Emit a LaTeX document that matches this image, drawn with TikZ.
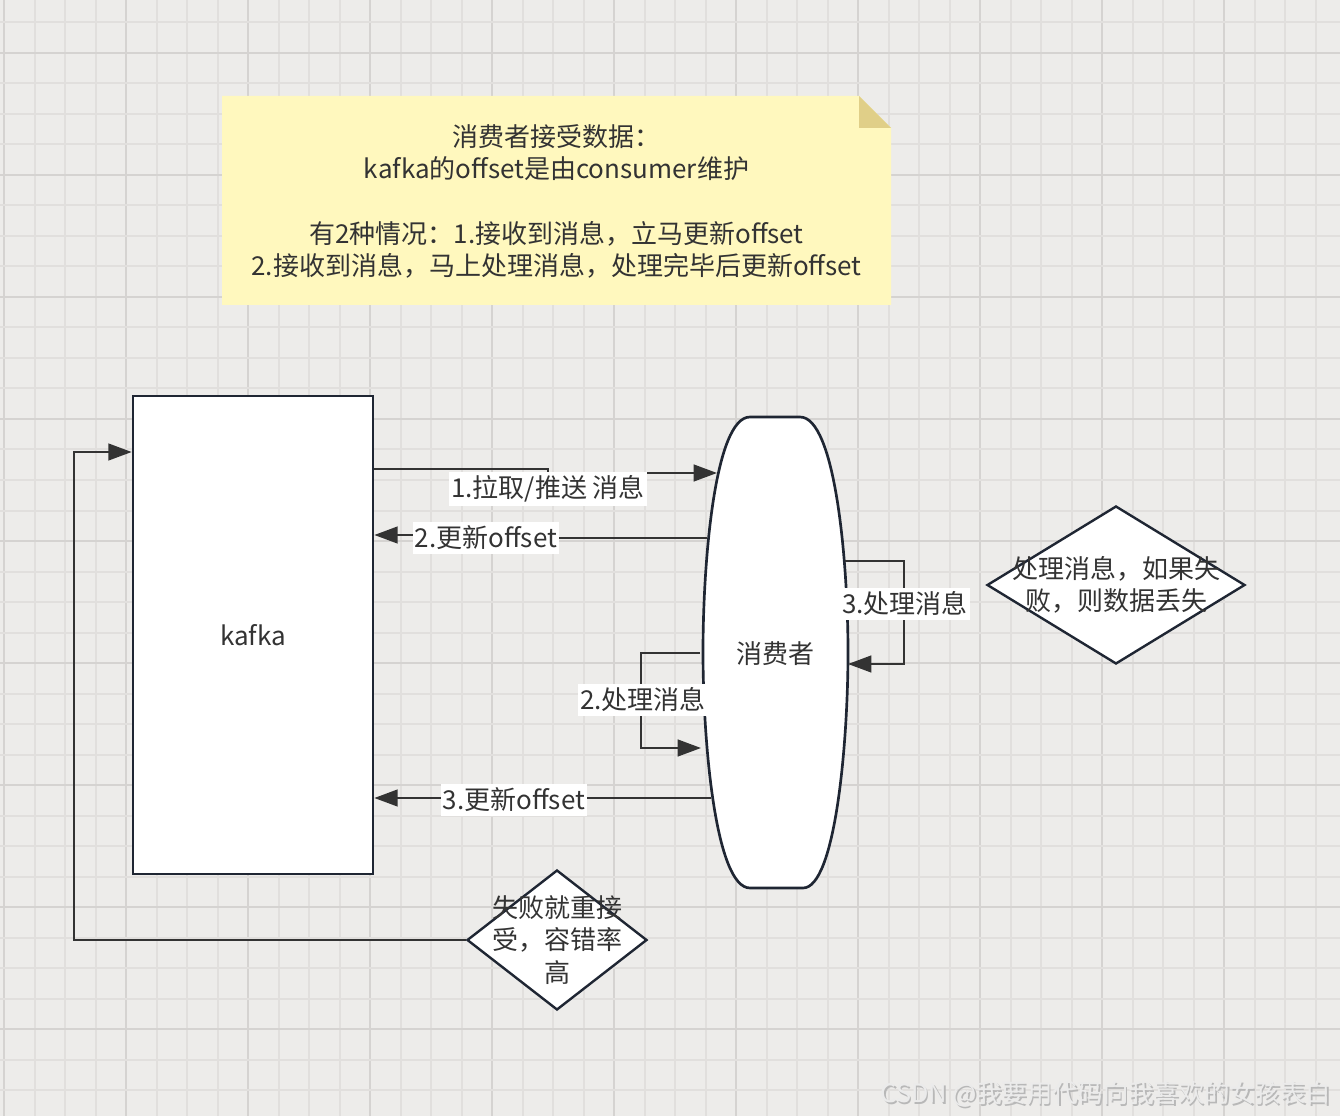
\documentclass[tikz,border=0pt]{standalone}
\usepackage{fontspec}
\setmainfont{Noto Sans CJK SC}
\usepackage{xcolor}
\usepackage{tikz}
\usetikzlibrary{arrows.meta,positioning,calc,shapes.geometric}
\definecolor{kfPaper}{HTML}{EDECEA}
\definecolor{kfGrid}{HTML}{E1DFDD}
\definecolor{kfGridMajor}{HTML}{D5D3D1}
\definecolor{kfNote}{HTML}{FFF8BE}
\definecolor{kfFold}{HTML}{E0CF88}
\definecolor{kfEdge}{HTML}{1F2633}
\definecolor{kfInk}{HTML}{333333}
\tikzset{
  grid line/.style={draw=kfGrid,line width=1.5pt},
  grid major/.style={draw=kfGridMajor,line width=1.5pt},
  diagram text/.style={font=\fontsize{19.5pt}{24.2pt}\selectfont,text=kfInk},
  kafka box/.style={draw=kfEdge,line width=2pt,fill=white,diagram text,
    minimum width=180pt,minimum height=358.5pt,inner sep=0pt},
  consumer edge/.style={draw=kfEdge,line width=2pt,fill=white},
  decision/.style={diamond,draw=kfEdge,line width=1.8pt,fill=white,inner sep=0pt},
  decision text/.style={diagram text,align=center,inner sep=0pt},
  flow arrow/.style={-{Triangle[length=17.5pt,width=12.5pt]},line width=1.8pt,draw=kfInk},
  edge label/.style={diagram text,fill=white,inner xsep=1.5pt,inner ysep=2.8pt}
}
\begin{document}
\begin{tikzpicture}[x=0.75pt,y=-0.75pt]
\fill[kfPaper] (0,0) rectangle (1340,1116);
\useasboundingbox (0,0) rectangle (1340,1116);
% grid
\foreach \k in {0,...,43}{
  \pgfmathtruncatemacro{\m}{mod(\k,4)}
  \ifnum\m=0 \draw[grid major] ({4+30.5*\k},0) -- ++(0,1116);
  \else \draw[grid line] ({4+30.5*\k},0) -- ++(0,1116); \fi}
\foreach \k in {0,...,35}{
  \pgfmathtruncatemacro{\m}{mod(\k+3,4)}
  \ifnum\m=0 \draw[grid major] (0,{22.5+30.5*\k}) -- ++(1340,0);
  \else \draw[grid line] (0,{22.5+30.5*\k}) -- ++(1340,0); \fi}

% note
\fill[kfNote] (222,96) -- (859,96) -- (891,128) -- (891,305) -- (222,305) -- cycle;
\fill[kfFold] (859,96) -- (859,128) -- (891,128) -- cycle;
\node[diagram text,align=center] (memo) at (556.5,201.5)
  {消费者接受数据：\\kafka的offset是由consumer维护\\ \mbox{}\\有2种情况：1.接收到消息，立马更新offset\\2.接收到消息，马上处理消息，处理完毕后更新offset};

\node[kafka box] (kafka) at (253,635) {kafka};

% consumer
\node[diagram text,minimum width=108.75pt,minimum height=353.25pt] (cons) at (775.5,652.5) {};
\draw[consumer edge] (750,417) -- (800,417) .. controls (835,417) and (848,560) .. (848,652)
  .. controls (848,745) and (835,888) .. (803,888) -- (750,888)
  .. controls (716,888) and (703,745) .. (703,652)
  .. controls (703,560) and (715,417) .. (750,417) -- cycle;
\node[diagram text] (consname) at (775,654) {消费者};

\node[decision,minimum width=193.5pt,minimum height=118.5pt] (lost) at (1116,585) {};
\node[decision text] (losttext) at (lost.center) {处理消息，如果失\\败，则数据丢失};
\node[decision,minimum width=135pt,minimum height=105pt] (retry) at (557,940) {};
\node[decision text] (retrytext) at (retry.center) {失败就重接\\受，容错率\\高};

\draw[flow arrow] (kafka.east |- 0,469) -- (548,469) |- (717,473);
\draw[flow arrow] (707,538) -- (486,538) |- (kafka.east |- 0,535);
\draw[flow arrow] (845,561) -- (904,561) -- (904,664) -- (848,664);
\draw[flow arrow] (700,653) -| (641,748) -- (701,748);
\draw[flow arrow] (711,798) -- (kafka.east |- 0,798);
\draw[flow arrow] (retry.west) -- (74,940) |- (kafka.west |- 0,452);

\node[edge label] (pull) at (548,489) {1.拉取/推送 消息};
\node[edge label] (commit) at (486,538) {2.更新offset};
\node[edge label] (work) at (905,604) {3.处理消息};
\node[edge label] (handle) at (643,700) {2.处理消息};
\node[edge label] (commitlate) at (514,800) {3.更新offset};

\node[font=\fontsize{19pt}{22pt}\selectfont,text=black!28] (markshade) at (1107.5,1095.5) {CSDN @我要用代码向我喜欢的女孩表白};
\node[font=\fontsize{19pt}{22pt}\selectfont,text=black!8] (mark) at (1106,1094) {CSDN @我要用代码向我喜欢的女孩表白};
\end{tikzpicture}
\end{document}
